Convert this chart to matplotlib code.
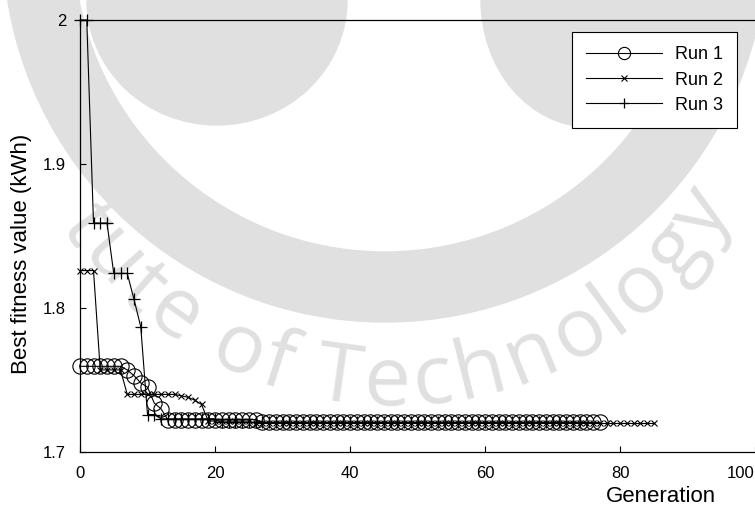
import numpy as np
import matplotlib
matplotlib.use("Agg")
import matplotlib.pyplot as plt
from matplotlib.patches import Wedge, Ellipse
from matplotlib.font_manager import FontProperties
from matplotlib.textpath import TextToPath

plt.rcParams['font.family'] = ['Liberation Sans', 'DejaVu Sans']

# best fitness per generation (kWh)
run1 = [1.7595] * 7 + [1.757, 1.753, 1.748, 1.745, 1.734, 1.730] + [1.7225] * 14 + [1.7205] * 51
run2 = [1.826] * 3 + [1.757] * 4 + [1.740] * 8 + [1.739, 1.738, 1.736, 1.733] + [1.7215] * 7 + [1.7198] * 60
run3 = [2.0] * 2 + [1.859] * 3 + [1.824] * 3 + [1.806, 1.787, 1.726, 1.726] + [1.723] * 9 + [1.7205] * 54

labels = ['Run 1', 'Run 2', 'Run 3']
xticks = [0, 20, 40, 60, 80, 100]
yticks = [1.7, 1.8, 1.9, 2.0]

W, H = 755, 512
fig = plt.figure(figsize=(W / 100, H / 100), dpi=100)

# faint watermark behind the chart (institute logo + curved name)
wm = '#e0e0e0'

# logo: ring with two lobes inside (pixel coords, y from top)
ring = Wedge((385, H + 60), 382, 0, 360, width=70, transform=None,
             color=wm, zorder=-2)
fig.patches.append(ring)
for (ex, ew, eh) in [(217, 260, 250), (590, 218, 254)]:
    fig.patches.append(Ellipse((ex, H), ew, eh, transform=None, color=wm, zorder=-2))

name = 'Institute of Technology'
prop = FontProperties(family='Open Sans', size=60)
t2p = TextToPath()
adv = [1.12 * t2p.get_text_width_height_descent(c, prop, ismath=False)[0] * 100 / 72
       for c in name]
cx, cy = 390, 10
Rb = 395.0
iT = name.index('T')
thetaT = 98.0  # screen angle of the 'T'
pos = np.cumsum(adv) - np.array(adv) / 2
for c, s in zip(name, pos):
    th = thetaT - np.degrees((s - pos[iT]) / Rb)
    x = cx + Rb * np.cos(np.radians(th))
    y = cy + Rb * np.sin(np.radians(th))
    if x < 62 or x > 735:
        continue
    fig.text(x / W, 1 - y / H, c, fontproperties=prop, color=wm, rotation=90 - th,
             rotation_mode='anchor', ha='center', va='baseline', zorder=-1)

ax = fig.add_axes([80 / W, 60 / H, 675 / W, 432 / H])
ax.set_facecolor('none')

gen1 = np.arange(len(run1))
gen2 = np.arange(len(run2))
gen3 = np.arange(len(run3))
ax.plot(gen1, run1, color='black', lw=0.8, marker='o', ms=11, mfc='none', mew=0.8,
        label=labels[0], clip_on=False)
ax.plot(gen2, run2, color='black', lw=0.8, marker='x', ms=5, mew=0.8,
        label=labels[1], clip_on=False)
ax.plot(gen3, run3, color='black', lw=0.8, marker='+', ms=9, mew=0.9,
        label=labels[2], clip_on=False)

ax.set_xlim(0, 100)
ax.set_ylim(1.7, 2.0)
ax.set_xticks(xticks)
ax.set_yticks(yticks)
ax.set_yticklabels(['%g' % v for v in yticks])
ax.tick_params(direction='in', length=4.5, width=0.8, labelsize=12, pad=10)
for lab in ax.get_xticklabels():
    if lab.get_text() == '100':
        lab.set_ha('right')
ax.spines['right'].set_visible(False)
for s in ['left', 'top', 'bottom']:
    ax.spines[s].set_linewidth(0.9)

ax.set_xlabel('Generation', fontsize=16)
ax.xaxis.set_label_coords(0.861, -0.104)
ax.xaxis.label.set_va('center')
ax.set_ylabel('Best fitness value (kWh)', fontsize=16)
ax.yaxis.set_label_coords(-0.086, 0.458)
ax.yaxis.label.set_va('center')

leg = ax.legend(loc='upper right', bbox_to_anchor=(737 / W, 1 - 32 / H),
                bbox_transform=fig.transFigure, borderaxespad=0, fontsize=13,
                handlelength=4.2, handletextpad=0.7, labelspacing=0.45,
                markerscale=0.8, fancybox=False, framealpha=1, edgecolor='black',
                borderpad=0.8)
leg.get_frame().set_linewidth(0.8)

fig.savefig('out.png', dpi=100)
